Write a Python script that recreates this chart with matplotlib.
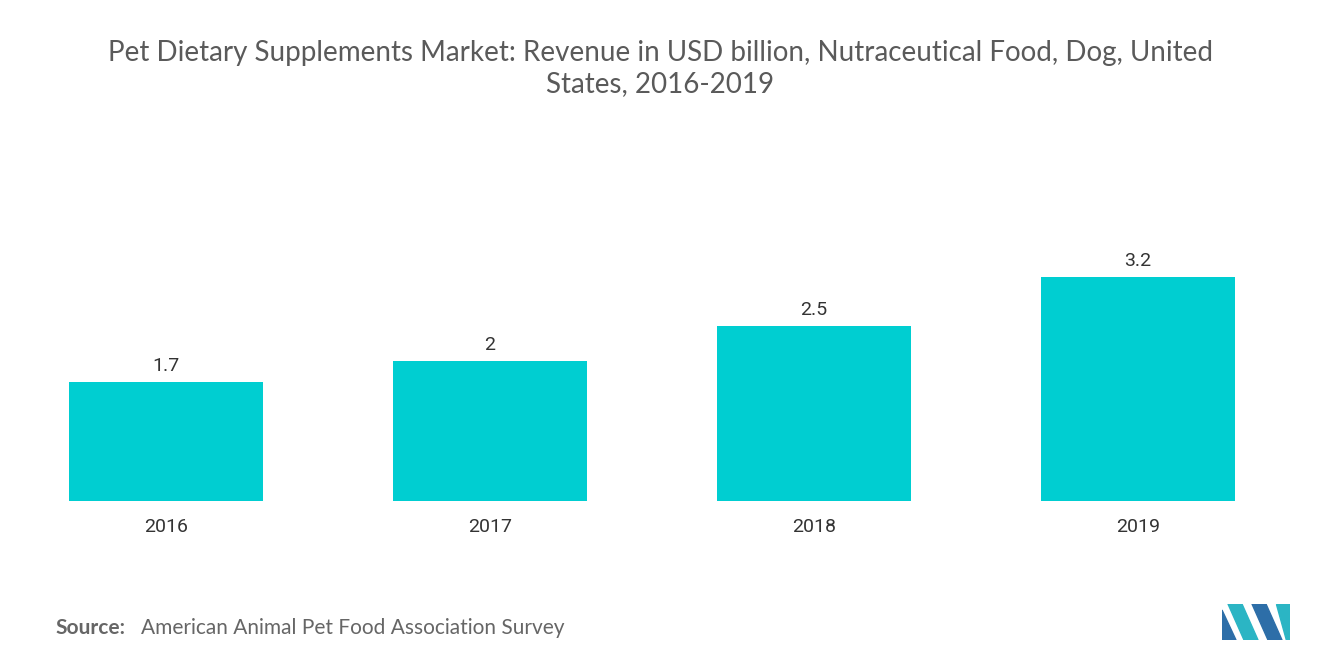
import matplotlib
matplotlib.use("Agg")
import matplotlib.pyplot as plt
from matplotlib.patches import Polygon

years = ["2016", "2017", "2018", "2019"]
revenue = [1.7, 2.0, 2.5, 3.2]
value_labels = ["1.7", "2", "2.5", "3.2"]

fig = plt.figure(figsize=(13.2, 6.65), dpi=100)
ax = fig.add_axes([4 / 1320, 164 / 665, 1296 / 1320, 245 / 665])

x = range(len(years))
ax.bar(x, revenue, width=0.6, color="#00CED1")
for xi, v, lab in zip(x, revenue, value_labels):
    ax.text(xi, v + 0.1, lab, ha="center", va="bottom", fontsize=14, color="#333333", family="Roboto")

ax.set_xlim(-0.5, 3.5)
ax.set_ylim(0, 3.5)
ax.set_xticks(list(x))
ax.set_xticklabels(years, fontsize=14, color="#333333", family="Roboto")
ax.tick_params(axis="x", length=0, pad=12)
ax.set_yticks([])
for s in ax.spines.values():
    s.set_visible(False)

fig.text(0.5, 0.94, "Pet Dietary Supplements Market: Revenue in USD billion, Nutraceutical Food, Dog, United\nStates, 2016-2019",
         ha="center", va="top", fontsize=20, color="#5a5a5a", family="Lato", linespacing=1.25)

fig.text(55 / 1320, 1 - 628 / 665, "Source:", ha="left", va="center", fontsize=15, color="#666666",
         family="Lato", weight="bold")
fig.text(141 / 1320, 1 - 628 / 665, "American Animal Pet Food Association Survey", ha="left", va="center",
         fontsize=15, color="#666666", family="Lato")

# logo
lax = fig.add_axes([1222 / 1320, 1 - 640 / 665, 68 / 1320, 36 / 665])
lax.set_xlim(0, 68)
lax.set_ylim(0, 36)
lax.axis("off")
lax.add_patch(Polygon([(0, 0), (0, 30), (14, 0)], color="#2D6EA8"))
lax.add_patch(Polygon([(6, 36), (20, 36), (36, 0), (22, 0)], color="#2BB5C4"))
lax.add_patch(Polygon([(30, 36), (44, 36), (60, 0), (46, 0)], color="#2D6EA8"))
lax.add_patch(Polygon([(54, 36), (68, 36), (68, 0), (64, 0)], color="#2BB5C4"))

fig.savefig("out.png", dpi=100, facecolor="white")
